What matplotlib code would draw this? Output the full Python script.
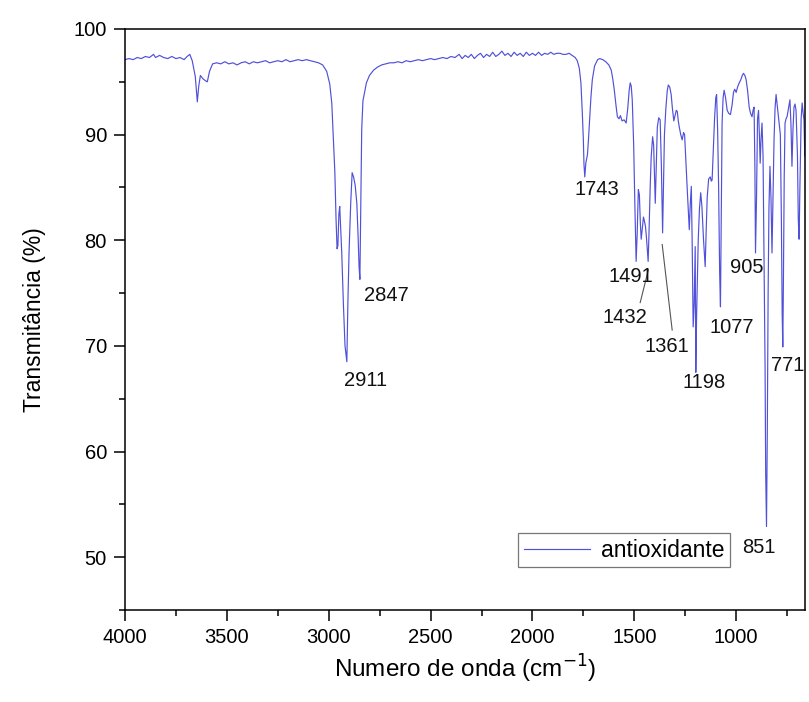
import matplotlib
matplotlib.use("Agg")
import matplotlib.pyplot as plt
from matplotlib.ticker import MultipleLocator

plt.rcParams['font.family'] = ['Liberation Sans', 'DejaVu Sans']

# FTIR spectrum of the antioxidant sample: wavenumber (cm-1) and transmittance (%)
wavenumber = [
    4000, 3980, 3960, 3940, 3920, 3900, 3880, 3860, 3850, 3830, 3810, 3790, 3770, 3750,
    3730, 3710, 3695, 3682, 3670, 3655, 3645, 3638, 3630, 3618, 3605, 3596, 3585, 3570,
    3550, 3530, 3510, 3490, 3470, 3450, 3430, 3410, 3390, 3370, 3350, 3330, 3310, 3290,
    3270, 3250, 3230, 3210, 3190, 3170, 3150, 3130, 3110, 3090, 3070, 3050, 3030, 3010,
    2995, 2985, 2977, 2970, 2964, 2959, 2955, 2950, 2946, 2941, 2936, 2928, 2920, 2911,
    2906, 2900, 2892, 2885, 2878, 2870, 2862, 2856, 2851, 2847, 2843, 2838, 2832, 2815,
    2800, 2780, 2760, 2740, 2720, 2700, 2680, 2660, 2640, 2620, 2600, 2580, 2560, 2540,
    2520, 2500, 2480, 2460, 2440, 2420, 2400, 2380, 2360, 2345, 2330, 2315, 2300, 2285,
    2270, 2255, 2240, 2225, 2210, 2195, 2180, 2165, 2150, 2135, 2120, 2105, 2090, 2075,
    2060, 2045, 2030, 2015, 2000, 1985, 1970, 1955, 1940, 1925, 1910, 1895, 1880, 1865,
    1850, 1835, 1820, 1805, 1790, 1780, 1770, 1762, 1755, 1750, 1747, 1743, 1738, 1730,
    1725, 1720, 1713, 1706, 1695, 1680, 1670, 1655, 1640, 1625, 1613, 1605, 1598, 1590,
    1583, 1575, 1568, 1560, 1550, 1540, 1532, 1525, 1520, 1515, 1510, 1503, 1497, 1491,
    1486, 1480, 1475, 1470, 1466, 1460, 1455, 1450, 1445, 1440, 1432, 1428, 1422, 1417,
    1410, 1405, 1400, 1397, 1392, 1387, 1380, 1373, 1367, 1361, 1357, 1352, 1345, 1338,
    1333, 1326, 1319, 1313, 1306, 1300, 1294, 1289, 1284, 1279, 1272, 1265, 1258, 1253,
    1247, 1240, 1233, 1230, 1225, 1220, 1216, 1211, 1206, 1201, 1198, 1194, 1186, 1180,
    1174, 1168, 1160, 1152, 1147, 1142, 1135, 1127, 1122, 1118, 1112, 1106, 1100, 1096,
    1091, 1086, 1081, 1077, 1074, 1069, 1064, 1059, 1052, 1044, 1036, 1028, 1020, 1013,
    1007, 1000, 993, 985, 977, 970, 964, 957, 951, 944, 936, 929, 922, 917,
    912, 908, 905, 900, 895, 890, 886, 882, 878, 873, 868, 863, 858, 855,
    851, 847, 843, 839, 834, 829, 824, 819, 814, 809, 804, 797, 789, 783,
    778, 774, 771, 768, 764, 760, 755, 750, 743, 736, 731, 726, 721, 716,
    711, 706, 699, 695, 691, 687, 681, 676, 671, 667, 663, 660,
]
transmittance = [
    97.1, 97.2, 97.1, 97.3, 97.2, 97.4, 97.3, 97.6, 97.3, 97.5, 97.3, 97.2, 97.4, 97.2,
    97.3, 97.1, 97.4, 97.6, 97.0, 95.5, 93.1, 94.6, 95.6, 95.3, 95.1, 95.0, 96.0, 96.7,
    96.8, 96.7, 96.9, 96.7, 96.8, 96.6, 96.8, 96.9, 96.7, 96.9, 96.8, 96.9, 97.0, 96.8,
    96.9, 97.0, 96.9, 97.1, 96.9, 97.0, 97.1, 97.0, 97.1, 97.0, 96.9, 96.8, 96.6, 96.0,
    94.8, 93.0, 89.5, 86.5, 82.0, 79.2, 79.5, 82.5, 83.2, 81.0, 78.8, 74.0, 70.0, 68.5,
    74.0, 79.0, 83.5, 86.4, 86.0, 85.2, 83.5, 80.5, 77.5, 76.3, 83.0, 90.5, 93.2, 94.9,
    95.6, 96.1, 96.4, 96.6, 96.7, 96.8, 96.8, 96.9, 96.8, 97.0, 96.9, 97.0, 97.1, 97.0,
    97.1, 97.2, 97.1, 97.2, 97.3, 97.2, 97.4, 97.3, 97.6, 97.2, 97.5, 97.3, 97.6, 97.2,
    97.5, 97.7, 97.3, 97.6, 97.4, 97.8, 97.4, 97.6, 97.9, 97.5, 97.7, 97.4, 97.8, 97.5,
    97.7, 97.4, 97.8, 97.5, 97.7, 97.5, 97.8, 97.5, 97.7, 97.6, 97.8, 97.6, 97.7, 97.7,
    97.6, 97.6, 97.7, 97.5, 97.3, 97.0, 96.3, 94.9, 92.0, 89.5, 87.2, 86.0, 87.3, 88.1,
    89.5, 91.2, 93.5, 95.2, 96.5, 97.1, 97.2, 97.1, 96.9, 96.6, 96.1, 95.2, 94.2, 92.8,
    91.7, 91.5, 91.8, 91.3, 91.4, 91.1, 92.5, 94.2, 94.9, 94.6, 93.3, 89.0, 83.2, 78.0,
    80.5, 84.8, 84.3, 81.5, 80.1, 81.2, 82.2, 81.8, 81.3, 80.2, 78.0, 80.5, 85.0, 87.9,
    89.8, 89.0, 85.5, 83.5, 87.0, 90.7, 91.6, 91.4, 87.0, 80.7, 85.0, 90.0, 92.5, 94.2,
    94.7, 94.5, 93.8, 92.5, 91.3, 91.8, 92.3, 92.2, 91.3, 90.7, 90.0, 89.5, 90.2, 90.0,
    87.5, 84.8, 82.0, 81.0, 83.5, 85.1, 80.0, 71.8, 74.0, 79.4, 67.5, 73.0, 80.1, 83.0,
    84.5, 83.2, 80.0, 77.5, 81.0, 84.1, 85.8, 86.0, 85.6, 85.7, 88.5, 91.5, 93.5, 93.8,
    90.5, 85.0, 77.0, 73.7, 80.0, 91.1, 93.5, 94.2, 93.5, 92.3, 92.0, 91.9, 92.8, 94.0,
    94.3, 94.0, 94.5, 94.9, 95.2, 95.6, 95.8, 95.6, 95.2, 94.2, 92.6, 92.0, 91.7, 92.3,
    92.6, 87.0, 78.8, 84.0, 91.5, 92.3, 90.0, 87.3, 89.5, 91.1, 88.0, 78.4, 68.0, 58.0,
    52.9, 62.0, 75.0, 83.0, 87.0, 84.0, 78.8, 84.0, 89.5, 92.5, 93.8, 92.5, 91.1, 90.0,
    82.0, 73.0, 69.9, 76.0, 86.0, 91.1, 91.5, 91.7, 92.5, 93.3, 91.0, 87.0, 90.5, 92.6,
    92.9, 92.3, 88.0, 82.0, 80.1, 85.0, 91.5, 93.0, 92.0, 91.4, 88.0, 87.9,
]

# Band labels: text, text position (wavenumber, %)
band_labels = ["2911", "2847", "1743", "1491", "1432", "1361", "1198", "1077", "905", "771", "851"]
label_x = [2819, 2716, 1686, 1515, 1544, 1338, 1157, 1020, 946, 745, 887]
label_y = [66.7, 74.8, 84.8, 76.6, 72.7, 69.9, 66.5, 71.7, 77.4, 68.1, 50.9]

fig = plt.figure(figsize=(8.09, 7.02), dpi=100)
ax = fig.add_axes([125 / 809, 1 - 610 / 702, (805 - 125) / 809, (610 - 29) / 702])

ax.plot(wavenumber, transmittance, color='#5050da', lw=0.85, label='antioxidante')

ax.set_xlim(4000, 662)
ax.set_ylim(45, 100)
ax.xaxis.set_major_locator(MultipleLocator(500))
ax.xaxis.set_minor_locator(MultipleLocator(250))
ax.yaxis.set_major_locator(MultipleLocator(10))
ax.yaxis.set_minor_locator(MultipleLocator(5))
ax.tick_params(which='both', direction='out', top=False, right=False, width=1.1,
               labelsize=14.5, colors='black')
ax.tick_params(which='major', length=8, pad=5)
ax.tick_params(which='minor', length=4.5)
for sp in ax.spines.values():
    sp.set_linewidth(1.1)

for txt, xx, yy in zip(band_labels, label_x, label_y):
    ax.text(xx, yy, txt, fontsize=14.5, ha='center', va='center', color='#111111')

# leader lines for the crowded bands
ax.plot([1431, 1471], [77.2, 74.1], color='#555555', lw=0.8)
ax.plot([1363, 1314], [79.6, 71.5], color='#555555', lw=0.8)

ax.set_xlabel('Numero de onda (cm$^{-1}$)', fontsize=17.5, labelpad=4)
ax.set_ylabel('Transmitância (%)', fontsize=16.5, labelpad=20)

leg = ax.legend(loc='upper left', bbox_to_anchor=(518 / 809, 1 - 533 / 702),
                bbox_transform=fig.transFigure, fontsize=16.5, frameon=True,
                fancybox=False, borderpad=0.25, handlelength=2.9, handletextpad=0.45,
                borderaxespad=0)
leg.get_frame().set_edgecolor('#555555')
leg.get_frame().set_linewidth(0.9)

fig.savefig('out.png', dpi=100)
